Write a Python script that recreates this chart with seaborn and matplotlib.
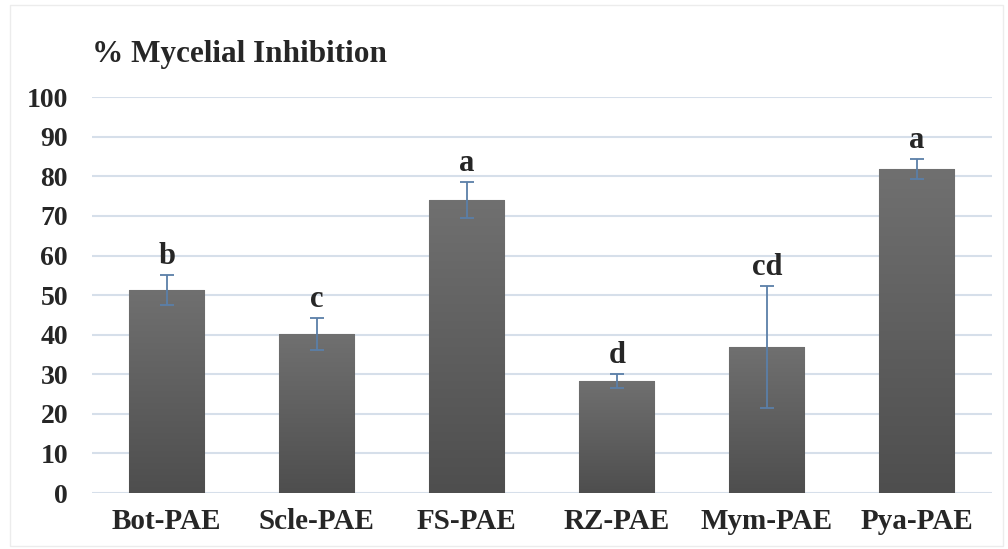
import numpy as np
import pandas as pd
import matplotlib
matplotlib.use("Agg")
import matplotlib.pyplot as plt
import seaborn as sns
from matplotlib.patches import Rectangle

categories = ["Bot-PAE", "Scle-PAE", "FS-PAE", "RZ-PAE", "Mym-PAE", "Pya-PAE"]
values = [51.3, 40.1, 74.0, 28.3, 36.9, 81.8]
errors = [3.8, 4.0, 4.6, 1.8, 15.3, 2.5]
letters = ["b", "c", "a", "d", "cd", "a"]
yticks = [0, 10, 20, 30, 40, 50, 60, 70, 80, 90, 100]

sns.set_theme(style="white")
plt.rcParams['font.family'] = ['Liberation Serif', 'DejaVu Serif']

df = pd.DataFrame({"cat": categories, "val": values})

fig = plt.figure(figsize=(10.08, 5.49), dpi=100)
ax = fig.add_axes([0.091, 0.102, 0.893, 0.721])

sns.barplot(data=df, x="cat", y="val", ax=ax, color="#5e5e5e", width=0.5,
            edgecolor="#8a8a8a", linewidth=0.8, errorbar=None, zorder=3)

# gradient fill clipped to bars
grad = np.linspace(0, 1, 256).reshape(-1, 1)
cmap = matplotlib.colors.LinearSegmentedColormap.from_list("g", ["#4e4e4e", "#707070"])
for p in ax.patches:
    x0, y0 = p.get_x(), p.get_y()
    w, h = p.get_width(), p.get_height()
    im = ax.imshow(grad, extent=[x0, x0 + w, y0, y0 + h], origin="lower",
                   cmap=cmap, aspect="auto", zorder=3.5)
    im.set_clip_path(p)

xs = np.arange(len(categories))
ax.errorbar(xs, values, yerr=errors, fmt="none", ecolor="#5b7fa8",
            elinewidth=1.3, capsize=5, capthick=1.3, zorder=5)

for x, v, e, l in zip(xs, values, errors, letters):
    ax.text(x, v + e + 1.0, l, ha="center", va="bottom", fontsize=22,
            fontweight="bold", zorder=6)

ax.set_xlim(-0.5, len(categories) - 0.5)
ax.set_ylim(0, 100)
ax.set_yticks(yticks)
ax.set_yticklabels([str(t) for t in yticks])
ax.yaxis.grid(True, color="#d6dfea", linewidth=1.5, zorder=0)
ax.set_axisbelow(True)
for s in ax.spines.values():
    s.set_visible(False)
ax.tick_params(axis="y", length=0, pad=17, labelsize=20)
ax.tick_params(axis="x", length=0, pad=11, labelsize=21)
for lab in ax.get_xticklabels() + ax.get_yticklabels():
    lab.set_fontweight("bold")
ax.set_xlabel("")
ax.set_ylabel("")

fig.text(0.091, 0.900, "% Mycelial Inhibition", fontsize=22.5, fontweight="bold",
         ha="left", va="center")

fig.patches.append(Rectangle((0.01, 0.005), 0.985, 0.985, transform=fig.transFigure,
                             fill=False, edgecolor="#ececec", linewidth=1))

fig.savefig("out.png", dpi=100)
